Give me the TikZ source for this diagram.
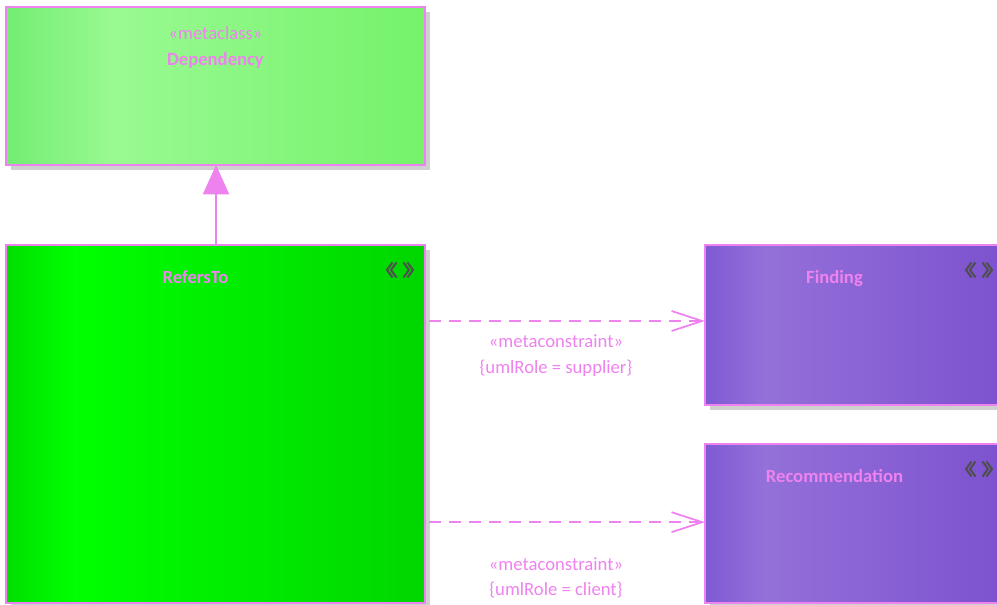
\documentclass[tikz,border=0pt]{standalone}
\usepackage{fontspec}
\setmainfont{Carlito}
\usetikzlibrary{positioning,arrows.meta,shadows}
\definecolor{umlpink}{RGB}{238,130,238}
\definecolor{shadowgray}{RGB}{208,208,208}
\definecolor{icongray}{RGB}{78,78,78}
% horizontal fills with a light band near the left
\pgfdeclarehorizontalshading{depshade}{100bp}{rgb(0bp)=(0.45,0.93,0.45); rgb(25bp)=(0.45,0.93,0.45);
  rgb(38bp)=(0.60,0.98,0.57); rgb(75bp)=(0.46,0.95,0.42); rgb(100bp)=(0.46,0.95,0.42)}
\pgfdeclarehorizontalshading{refshade}{100bp}{rgb(0bp)=(0,0.87,0); rgb(25bp)=(0,0.87,0);
  rgb(33bp)=(0,1,0); rgb(75bp)=(0,0.84,0); rgb(100bp)=(0,0.84,0)}
\pgfdeclarehorizontalshading{purpshade}{100bp}{rgb(0bp)=(0.50,0.35,0.83); rgb(25bp)=(0.50,0.35,0.83);
  rgb(35bp)=(0.58,0.44,0.85); rgb(75bp)=(0.49,0.32,0.81); rgb(100bp)=(0.49,0.32,0.81)}
\tikzset{
  umlbox/.style={draw=umlpink,line width=1.3pt,inner sep=0pt,outer sep=0pt,
    drop shadow={shadow xshift=4pt,shadow yshift=-4pt,fill=shadowgray,opacity=1}},
  stereo/.style={text=umlpink,font=\fontsize{14}{17}\selectfont,anchor=base,inner sep=0pt},
  cname/.style={text=umlpink,font=\fontsize{14}{17}\selectfont\bfseries,anchor=base,inner sep=0pt},
  stxicon/.style={draw=icongray,line width=1.5pt},
  genl/.style={draw=umlpink,line width=1.5pt,-{Triangle[length=22pt,width=19.5pt]}},
  depl/.style={draw=umlpink,line width=1.3pt,dash pattern=on 9pt off 6pt,
    -{Straight Barb[length=23pt,width=15pt]},shorten <=3pt},
}
\begin{document}
\begin{tikzpicture}[x=0.75pt,y=-0.75pt]
  \useasboundingbox (0,0) rectangle (997,604);
  % classes
  \node[umlbox,shading=depshade,minimum width=314.25pt,minimum height=118.5pt] (dep) at (215.5,86) {};
  \node[umlbox,shading=refshade,minimum width=314.25pt,minimum height=268.5pt] (ref) at (215.5,424) {};
  \node[umlbox,shading=purpshade,minimum width=224.25pt,minimum height=120pt] (find) at (854.5,325) {};
  \node[umlbox,shading=purpshade,minimum width=224.25pt,minimum height=119.25pt] (rec) at (854.5,523.5) {};
  % connectors
  \draw[genl] ([xshift=0.4pt]ref.north) -- ([xshift=0.4pt]dep.south);
  \draw[depl] ([yshift=3pt]find.west -| ref.east) -- ([yshift=3pt]find.west);
  \draw[depl] ([yshift=1pt]rec.west -| ref.east) -- ([yshift=1pt]rec.west);
  % texts
  \node[stereo] (depst) at ([yshift=-24pt]dep.north) {«metaclass»};
  \node[cname] (depnm) at ([yshift=-43.5pt]dep.north) {Dependency};
  \node[cname] (refnm) at ([xshift=-15pt,yshift=-28.5pt]ref.north) {RefersTo};
  \node[cname] (findnm) at ([xshift=-15pt,yshift=-29pt]find.north) {Finding};
  \node[cname] (recnm) at ([xshift=-15pt,yshift=-29pt]rec.north) {Recommendation};
  \node[stereo] (c1st) at (556,347) {«metaconstraint»};
  \node[stereo] (c1rl) at (556,373) {\{umlRole = supplier\}};
  \node[stereo] (c2st) at (556,570) {«metaconstraint»};
  \node[stereo] (c2rl) at (556,595) {\{umlRole = client\}};
  % stereotype icons
  \foreach \b in {ref,find,rec}{
    \coordinate (\b ic) at ([xshift=-18.75pt,yshift=-18.75pt]\b.north east);
    \foreach \dx in {-13,-9,9,13}
      \draw[stxicon,shift={(\b ic)}] ({\dx+sign(\dx)*-5.5},-7.5) -- (\dx,0) -- ({\dx+sign(\dx)*-5.5},7.5);
  }
\end{tikzpicture}
\end{document}
